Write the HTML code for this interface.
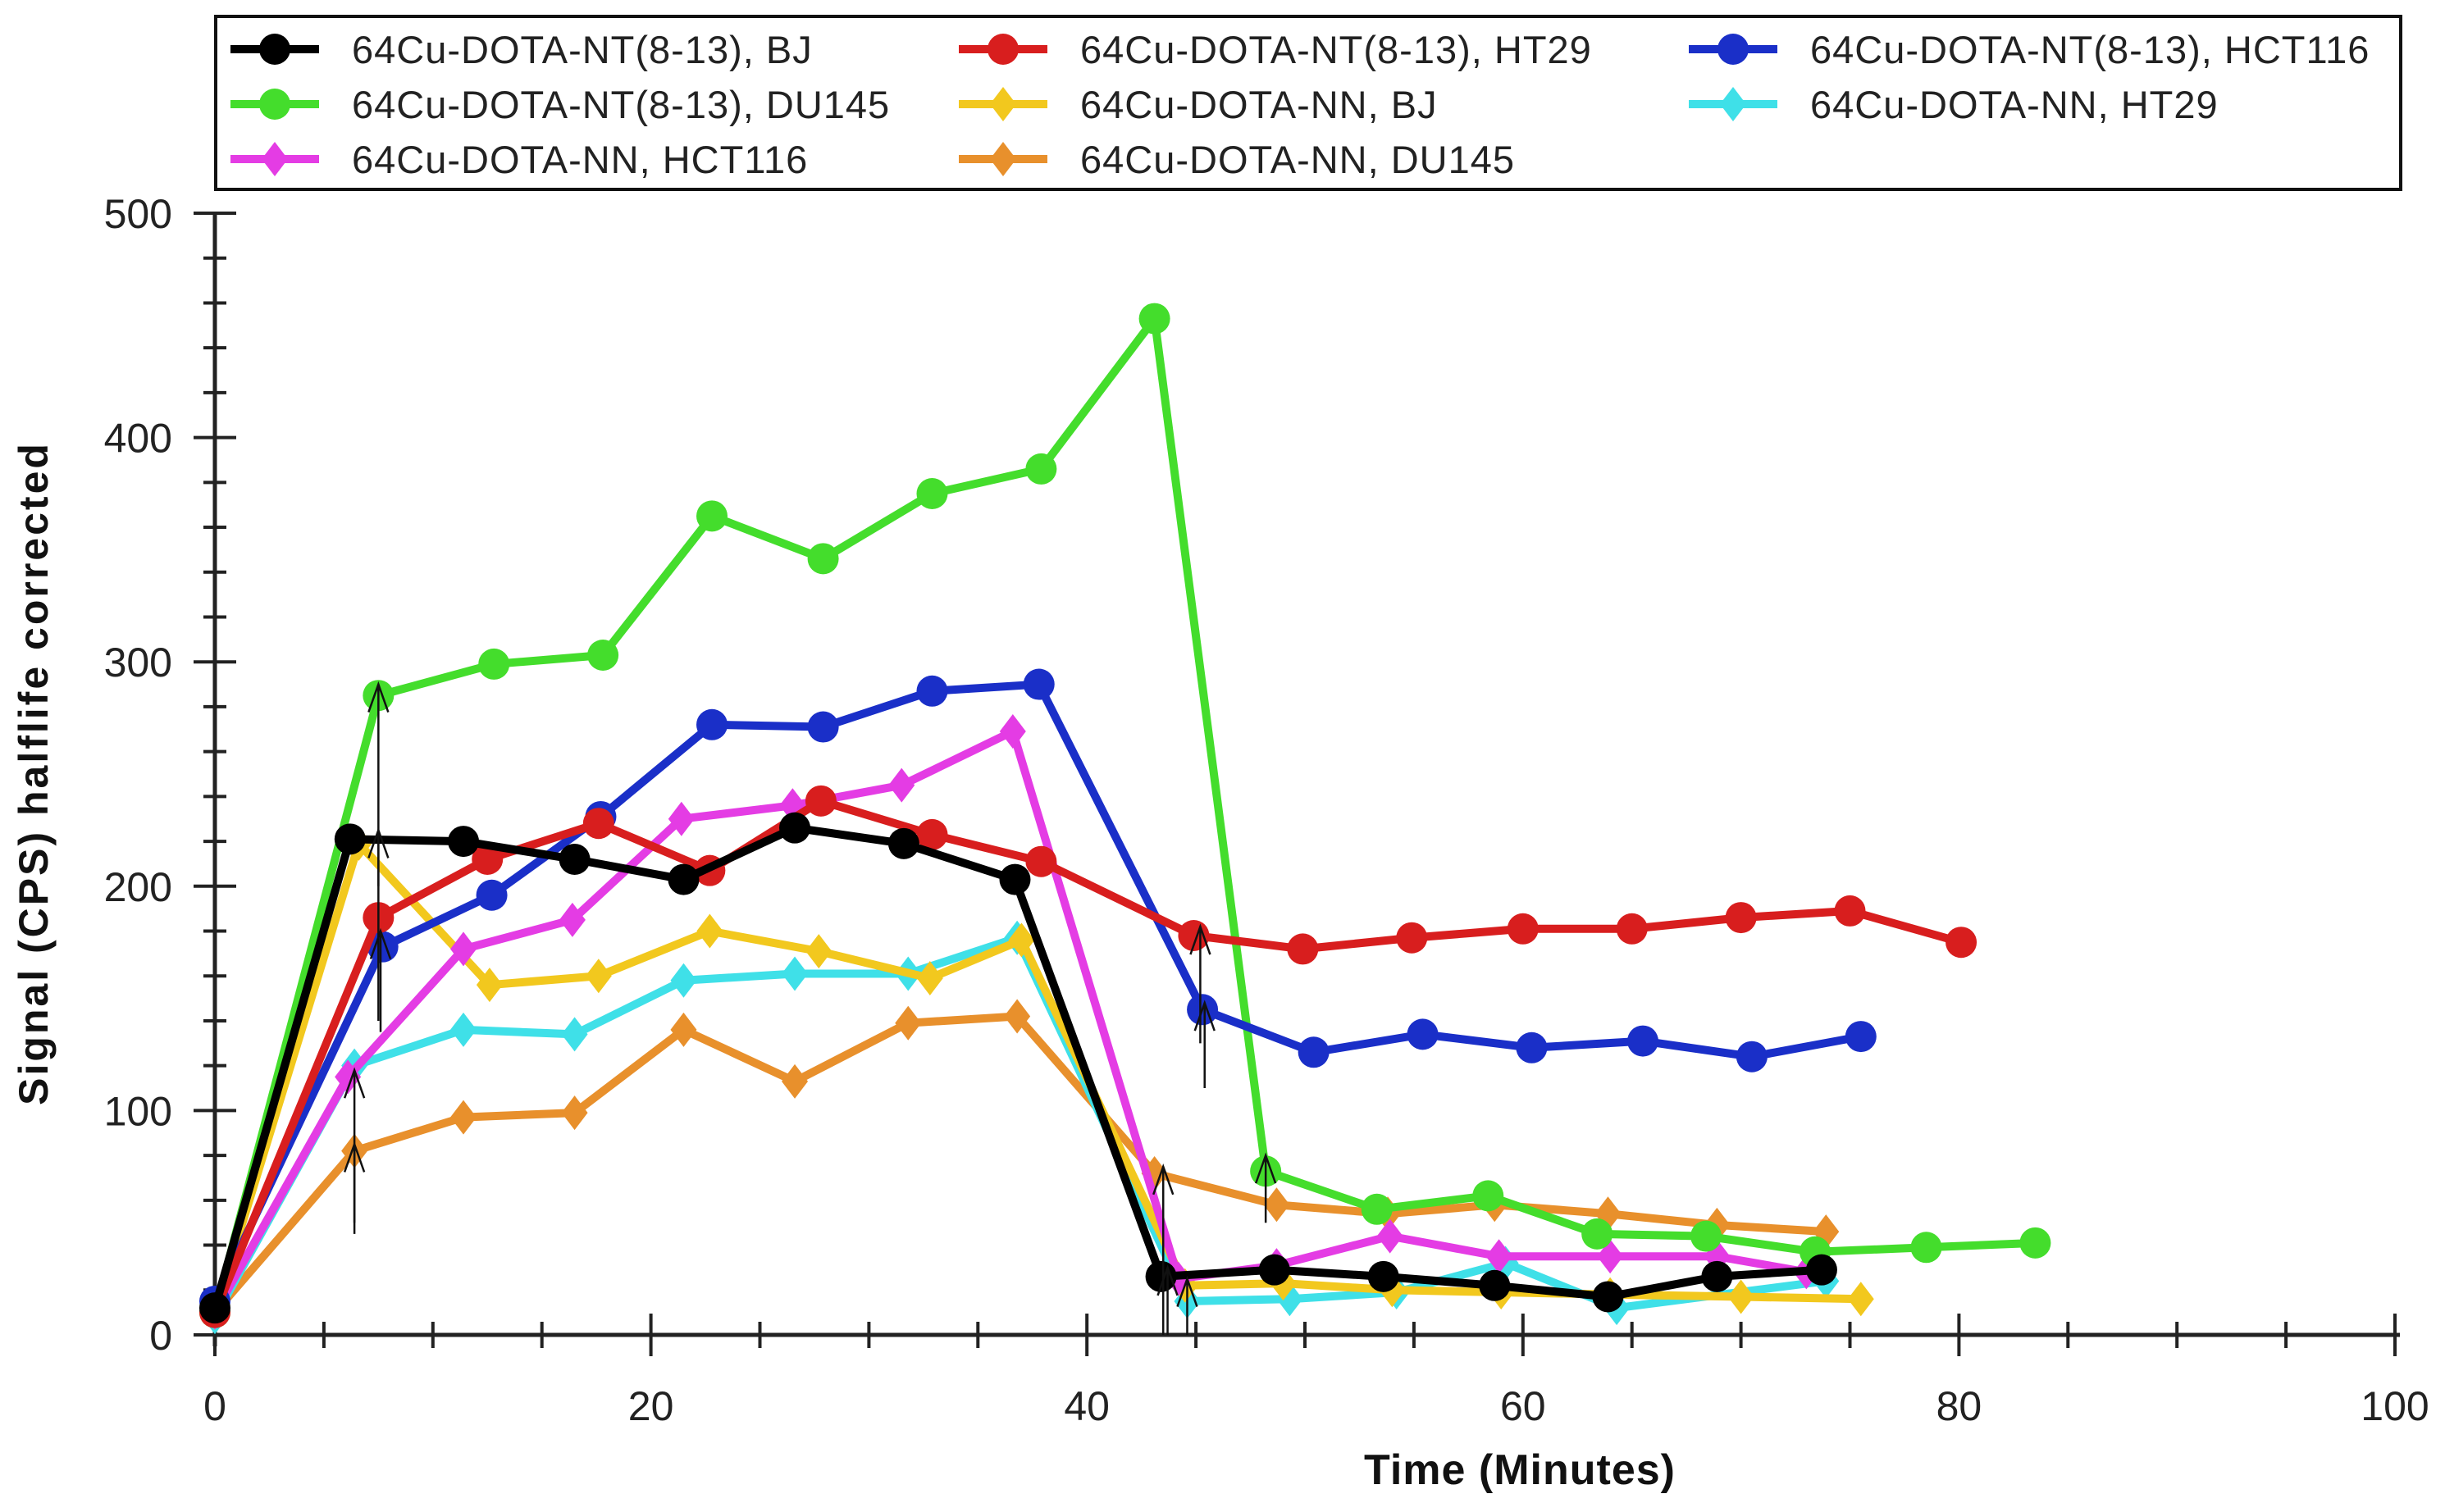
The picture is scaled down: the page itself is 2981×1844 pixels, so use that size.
<!DOCTYPE html>
<html><head><meta charset="utf-8"><style>
html,body{margin:0;padding:0;background:#fff;}
svg{display:block;font-family:"Liberation Sans",Arial,sans-serif;}
</style></head><body>
<svg id="chart" width="2981" height="1844" viewBox="0 0 2981 1844" xmlns="http://www.w3.org/2000/svg">
<rect x="0" y="0" width="2981" height="1844" fill="#fff"/>
<g id="legend"></g>
<g id="axes"></g>
<g id="series"></g>
<g id="arrows"></g>
<text x="1853" y="1810" font-size="52" font-weight="bold" text-anchor="middle" fill="#111" letter-spacing="1">Time (Minutes)</text>
<text x="0" y="0" font-size="50" font-weight="bold" text-anchor="middle" fill="#111" letter-spacing="3" transform="translate(58,943) rotate(-90)">Signal (CPS) halflife corrected</text>
</svg>
<script>
const xTicks = [0,20,40,60,80,100];
const yTicks = [0,100,200,300,400,500];
const seriesNames = ["64Cu-DOTA-NT(8-13), BJ","64Cu-DOTA-NT(8-13), HT29","64Cu-DOTA-NT(8-13), HCT116","64Cu-DOTA-NT(8-13), DU145","64Cu-DOTA-NN, BJ","64Cu-DOTA-NN, HT29","64Cu-DOTA-NN, HCT116","64Cu-DOTA-NN, DU145"];
const bjNT_x = [0,6.2,11.4,16.5,21.5,26.6,31.6,36.7,43.4,48.6,53.6,58.7,63.9,68.9,73.7];
const bjNT_y = [12,221,220,212,203,226,219,203,26,29,26,22,17,26,29];
const ht29NT_x = [0,7.5,12.5,17.6,22.7,27.8,32.9,37.9,44.9,49.9,54.9,60,65,70,75,80.1];
const ht29NT_y = [10,186,212,228,207,238,223,211,178,172,177,181,181,186,189,175];
const hct116NT_x = [0,7.7,12.7,17.7,22.8,27.9,32.9,37.8,45.3,50.4,55.4,60.4,65.5,70.5,75.5];
const hct116NT_y = [15,173,196,231,272,271,287,290,145,126,134,128,131,124,133];
const du145NT_x = [0,7.5,12.8,17.8,22.8,27.9,32.9,37.9,43.1,48.2,53.3,58.4,63.4,68.4,73.4,78.5,83.5];
const du145NT_y = [10,285,299,303,365,346,375,386,453,73,56,62,45,44,37,39,41];
const bjNN_x = [0,6.6,12.6,17.6,22.7,27.7,32.8,37,44.5,49,54,59,64,70,75.5];
const bjNN_y = [10,219,156,160,180,171,159,176,22,23,20,19,18,17,16];
const ht29NN_x = [0,6.4,11.4,16.5,21.5,26.6,31.8,36.8,44.6,49.3,54.2,59.2,64.3,73.9];
const ht29NN_y = [8,120,136,134,158,161,161,177,15,16,19,32,12,24];
const hct116NN_x = [0,6.1,11.4,16.4,21.4,26.5,31.5,36.6,44.2,48.7,53.9,58.9,64,68.9,73];
const hct116NN_y = [10,115,172,185,230,236,245,269,25,31,44,35,35,35,28];
const du145NN_x = [0,6.4,11.4,16.5,21.5,26.6,31.8,36.8,43.1,48.7,53.8,58.7,63.9,68.9,73.9];
const du145NN_y = [10,82,97,99,136,113,139,142,72,58,54,58,54,49,46];
const arrowX = [7.5,7.5,7.6,6.4,6.4,43.5,43.7,44.6,45.2,45.4,48.2];
const arrowFrom = [200,140,135,45,50,0,0,0,130,110,50];
const arrowTo = [290,225,180,118,85,75,30,25,182,148,80];

const X0=262,X1=2920,Y0=1628,Y1=260;
const sx=v=>X0+(v-0)/(100-0)*(X1-X0);
const sy=v=>Y0-(v-0)/(500-0)*(Y0-Y1);
const NS="http://www.w3.org/2000/svg";
function mk(tag,parent,attrs){const e=document.createElementNS(NS,tag);for(const k in attrs)e.setAttribute(k,attrs[k]);parent.appendChild(e);return e;}

const axes=document.getElementById('axes');
let e=mk('line',axes,{x1:X0,y1:Y0,x2:X1+6,y2:Y0,stroke:'#222','stroke-width':5});


e=mk('line',axes,{x1:X0,y1:Y0+14,x2:X0,y2:Y1,stroke:'#222','stroke-width':5});


for(let v=0;v<=100;v+=5){const major=v%20===0;const t=mk('line',axes,{x1:sx(v),x2:sx(v),y1:major?Y0-26:Y0-16,y2:major?Y0+26:Y0+16,stroke:'#222','stroke-width':4});

}
for(let v=0;v<=500;v+=20){const major=v%100===0;const t=mk('line',axes,{x1:major?X0-26:X0-14,x2:major?X0+26:X0+14,y1:sy(v),y2:sy(v),stroke:'#222','stroke-width':4});

}
xTicks.forEach(v=>{const t=mk('text',axes,{x:sx(v),y:Y0+104,'font-size':50,'text-anchor':'middle',fill:'#222'});t.textContent=v;

});
yTicks.forEach(v=>{const t=mk('text',axes,{x:210,y:sy(v)+18,'font-size':50,'text-anchor':'end',fill:'#222'});t.textContent=v;

});

const colors=['#000000','#d81e1e','#1a2fc8','#44dd2c','#f2c81e','#3fe0e8','#e43ce4','#e8902c'];
const markers=['c','c','c','c','d','d','d','d'];
const xs=[bjNT_x,ht29NT_x,hct116NT_x,du145NT_x,bjNN_x,ht29NN_x,hct116NN_x,du145NN_x];
const ys=[bjNT_y,ht29NT_y,hct116NT_y,du145NT_y,bjNN_y,ht29NN_y,hct116NN_y,du145NN_y];
const slugs=['nt-bj','nt-ht29','nt-hct116','nt-du145','nn-bj','nn-ht29','nn-hct116','nn-du145'];
function marker(g,kind,x,y,c,name){let m;
 if(kind==='c'){m=mk('circle',g,{cx:x,cy:y,r:19,fill:c});}
 else{m=mk('polygon',g,{points:`${x},${y-21} ${x+16},${y} ${x},${y+21} ${x-16},${y}`,fill:c});}
 
 }
const order=[7,5,4,6,3,2,1,0];
const sg=document.getElementById('series');
order.forEach(i=>{const g=mk('g',sg,{});
 
 
 const pts=xs[i].map((x,j)=>sx(x)+','+sy(ys[i][j])).join(' ');
 const pl=mk('polyline',g,{points:pts,fill:'none',stroke:colors[i],'stroke-width':10,'stroke-linejoin':'round'});
 
 
 xs[i].forEach((x,j)=>marker(g,markers[i],sx(x),sy(ys[i][j]),colors[i],'point-'+slugs[i]));});

const ag=document.getElementById('arrows');
arrowX.forEach((x,i)=>{const X=sx(x),ya=sy(arrowFrom[i]),yb=sy(arrowTo[i]);
 const p=mk('path',ag,{d:`M${X},${ya} L${X},${yb} M${X-12},${yb+34} L${X},${yb} L${X+12},${yb+34}`,fill:'none',stroke:'#111','stroke-width':2.5});
 
 });

const lg=document.getElementById('legend');
const box=mk('rect',lg,{x:263,y:20,width:2664,height:211,fill:'#fff',stroke:'#111','stroke-width':4});


const colX=[281,1169,2059],rowY=[60,127,194];
seriesNames.forEach((n,i)=>{const cx=colX[i%3],cy=rowY[Math.floor(i/3)];
 const g=mk('g',lg,{});
 
 
 mk('line',g,{x1:cx,x2:cx+108,y1:cy,y2:cy,stroke:colors[i],'stroke-width':10});
 marker(g,markers[i],cx+54,cy,colors[i],'legend-marker');
 const t=mk('text',g,{x:cx+148,y:cy+17,'font-size':47,fill:'#222','letter-spacing':1});t.textContent=n;
 
 });
</script>
</body></html>
